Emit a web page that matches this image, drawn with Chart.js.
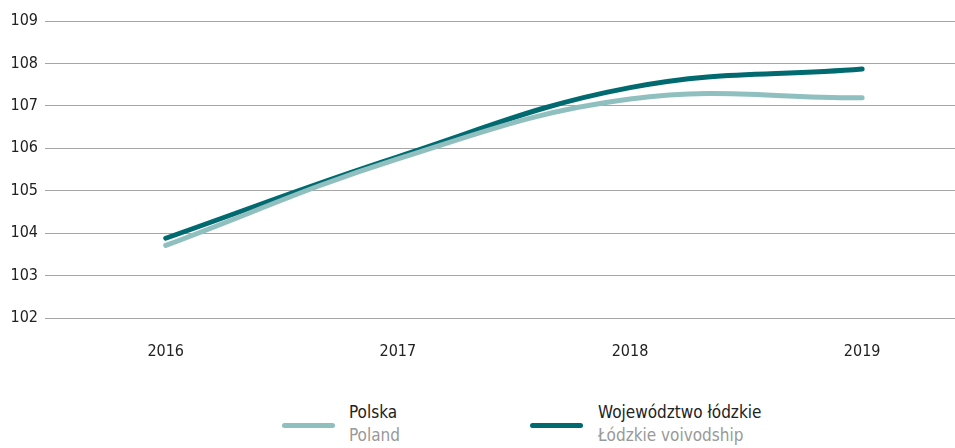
<!DOCTYPE html>
<html>
<head>
<meta charset="utf-8">
<script src="https://cdn.jsdelivr.net/npm/chart.js@4"></script>
<style>
  body { margin: 0; background: #fff; font-family: "DejaVu Sans Condensed", "Roboto", sans-serif; }
  #wrap { position: relative; width: 955px; height: 448px; }
  #box { position: absolute; left: 0; top: 0; width: 955px; height: 358px; }
  .leg { position: absolute; top: 403px; }
  .leg .ln { position: absolute; top: 20px; width: 53px; height: 5px; border-radius: 3px; }
  .leg .t1 { position: absolute; top: -2px; line-height: 22px; white-space: nowrap; font-size: 17px; color: #222; }
  .leg .t2 { position: absolute; top: 21px; line-height: 22px; white-space: nowrap; font-size: 17px; color: #999; }
</style>
</head>
<body>
<div id="wrap">
  <div id="box"><canvas id="lineChart"></canvas></div>
  <div class="leg" style="left:282px">
    <div class="ln" style="left:0;background:#8fbfbf"></div>
    <div class="t1" style="left:67px">Polska</div>
    <div class="t2" style="left:67px">Poland</div>
  </div>
  <div class="leg" style="left:530px">
    <div class="ln" style="left:0;background:#006a70"></div>
    <div class="t1" style="left:68px">Województwo łódzkie</div>
    <div class="t2" style="left:68px">Łódzkie voivodship</div>
  </div>
</div>
<script>
// * dane
const lata = [2016, 2017, 2018, 2019];
const polska = [103.71, 105.75, 107.16, 107.19];
const lodzkie = [103.88, 105.8, 107.43, 107.87];
const osY = [102, 103, 104, 105, 106, 107, 108, 109];

const fontOsi = { family: "'DejaVu Sans Condensed', Roboto, sans-serif", size: 16 };

const ctx = document.getElementById("lineChart").getContext("2d");
const lineChart = new Chart(ctx, {
  type: "line",
  data: {
    datasets: [
      {
        label: "Polska",
        data: lata.map((r, i) => ({ x: r, y: polska[i] })),
        borderColor: "#8fbfbf",
      },
      {
        label: "Województwo łódzkie",
        data: lata.map((r, i) => ({ x: r, y: lodzkie[i] })),
        borderColor: "#006a70",
      },
    ],
  },
  options: {
    responsive: true,
    maintainAspectRatio: false,
    animation: false,
    layout: { padding: { top: 21, right: 0, left: 0, bottom: 0 } },
    elements: {
      line: { borderWidth: 5, tension: 0.4, borderCapStyle: "round", borderJoinStyle: "round" },
      point: { radius: 0 },
    },
    plugins: { legend: { display: false }, tooltip: { enabled: false } },
    scales: {
      x: {
        type: "linear",
        min: 2015.48,
        max: 2019.4,
        afterBuildTicks: (s) => { s.ticks = lata.map((v) => ({ value: v })); },
        afterFit: (s) => { s.height = 40; },
        grid: { display: false },
        border: { display: false },
        ticks: { color: "#222", font: fontOsi, padding: 16, callback: (v) => String(v) },
      },
      y: {
        min: osY[0],
        max: osY[osY.length - 1],
        afterBuildTicks: (s) => { s.ticks = osY.map((v) => ({ value: v })); },
        afterFit: (s) => { s.width = 45; },
        grid: { color: "#a6a6a6", lineWidth: 1, drawTicks: false },
        border: { display: false },
        ticks: { color: "#222", font: fontOsi, padding: 7 },
      },
    },
  },
});
</script>
</body>
</html>
